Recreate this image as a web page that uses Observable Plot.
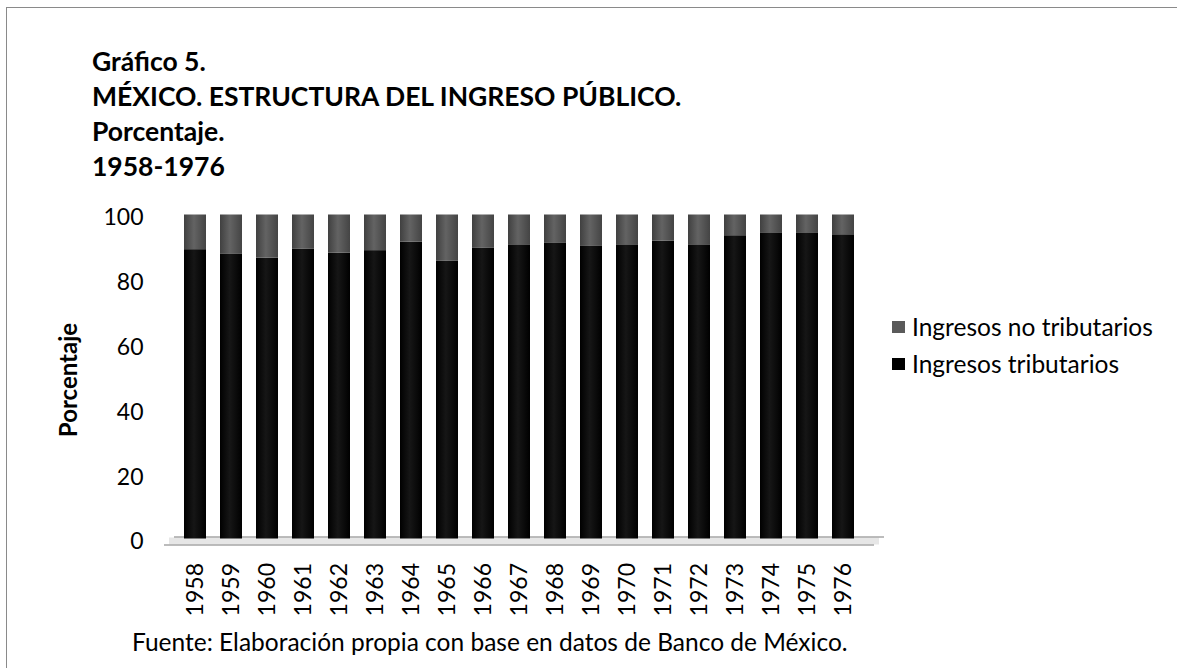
<!DOCTYPE html>
<html>
<head>
<meta charset="utf-8">
<script src="https://cdn.jsdelivr.net/npm/d3@7"></script>
<script src="https://cdn.jsdelivr.net/npm/@observablehq/plot@0.6"></script>
<style>
  html, body { margin: 0; padding: 0; background: #fff; }
  body { width: 1177px; height: 668px; position: relative; overflow: hidden; font-family: Lato, "Open Sans", sans-serif; color: #000; }
  #frame { position: absolute; left: 6px; top: 7px; width: 1300px; height: 800px; border: 1.5px solid #8a8a8a; box-sizing: border-box; }
  #title { position: absolute; left: 92px; top: 44px; font-weight: bold; font-size: 26.5px; line-height: 35px; white-space: nowrap; }
  #chart { position: absolute; left: 0; top: 190px; }
  #legend { position: absolute; left: 892px; top: 308px; font-size: 24.5px; }
  .item { display: flex; align-items: center; height: 37px; white-space: nowrap; }
  .sw { width: 13px; height: 12px; margin-right: 7px; flex: none; }
  #caption { position: absolute; left: 132px; top: 627px; font-size: 24.5px; line-height: 30px; white-space: nowrap; }
</style>
</head>
<body>
<div id="frame"></div>
<div id="title"></div>
<div id="chart"></div>
<div id="legend"></div>
<div id="caption"></div>
<script>
const titleLines = ["Gráfico 5.", "MÉXICO. ESTRUCTURA DEL INGRESO PÚBLICO.", "Porcentaje.", "1958-1976"];
const caption = "Fuente: Elaboración propia con base en datos de Banco de México.";
const yLabel = "Porcentaje";
const years = ["1958","1959","1960","1961","1962","1963","1964","1965","1966","1967","1968","1969","1970","1971","1972","1973","1974","1975","1976"];
const seriesNames = ["Ingresos tributarios", "Ingresos no tributarios"];
const seriesColors = ["#000000", "#5a5a5a"];
const tributarios = [89.3, 88.0, 86.7, 89.4, 88.2, 89.0, 91.6, 85.7, 89.7, 90.8, 91.4, 90.3, 90.8, 91.9, 90.8, 93.6, 94.5, 94.5, 93.9];
const noTributarios = [10.7, 12.0, 13.3, 10.6, 11.8, 11.0, 8.4, 14.3, 10.3, 9.2, 8.6, 9.7, 9.2, 8.1, 9.2, 6.4, 5.5, 5.5, 6.1];
const yTicks = [0, 20, 40, 60, 80, 100];

document.getElementById("title").innerHTML = titleLines.map(t => `<div>${t}</div>`).join("");
document.getElementById("caption").textContent = caption;

const data = [];
years.forEach((yr, i) => {
  data.push({year: yr, serie: seriesNames[0], value: tributarios[i]});
  data.push({year: yr, serie: seriesNames[1], value: noTributarios[i]});
});

const chart = Plot.plot({
  width: 1177,
  height: 440,
  marginTop: 27.5,
  marginBottom: 88.5,
  marginLeft: 164,
  marginRight: 303,
  style: {fontFamily: "Lato, 'Open Sans', sans-serif", fontSize: "23px", color: "#000", background: "transparent"},
  x: {domain: years, padding: 0.4},
  y: {domain: [0, 100]},
  color: {domain: seriesNames, range: ["url(#gBlack)", "url(#gGray)"]},
  marks: [
    Plot.ruleY([0], {stroke: "#e6e6e6", strokeWidth: 7, dy: -1, dx: 5}),
    Plot.ruleY([0], {stroke: "#a6a6a6", strokeWidth: 1.5, dy: 3}),
    Plot.ruleY([0], {stroke: "#a6a6a6", strokeWidth: 1.5, dy: -5, dx: 10}),
    Plot.barY(data, {x: "year", y: "value", fill: "serie", dy: -3}),
    Plot.axisY({ticks: yTicks, tickSize: 0, tickPadding: 21, label: yLabel, labelAnchor: "center", labelArrow: "none", labelOffset: 105, fontSize: 23}),
    Plot.axisX({tickRotate: -90, tickSize: 0, tickPadding: 21, label: null, fontSize: 23})
  ]
});
const ns = "http://www.w3.org/2000/svg";
const defs = document.createElementNS(ns, "defs");
defs.innerHTML = `
  <linearGradient id="gBlack" x1="0" x2="1" y1="0" y2="0">
    <stop offset="0" stop-color="#000"/><stop offset="0.45" stop-color="#161616"/><stop offset="1" stop-color="#000"/>
  </linearGradient>
  <linearGradient id="gGray" x1="0" x2="1" y1="0" y2="0">
    <stop offset="0" stop-color="#404040"/><stop offset="0.45" stop-color="#636363"/><stop offset="1" stop-color="#444"/>
  </linearGradient>`;
chart.insertBefore(defs, chart.firstChild);
const lab = chart.querySelector('g[aria-label="y-axis label"]');
if (lab) { lab.setAttribute("font-weight", "bold"); lab.setAttribute("font-size", "24"); }
document.getElementById("chart").appendChild(chart);

const legend = document.getElementById("legend");
[1, 0].forEach(i => {
  const d = document.createElement("div");
  d.className = "item";
  d.innerHTML = `<span class="sw" style="background:${seriesColors[i]}"></span><span>${seriesNames[i]}</span>`;
  legend.appendChild(d);
});
</script>
</body>
</html>
